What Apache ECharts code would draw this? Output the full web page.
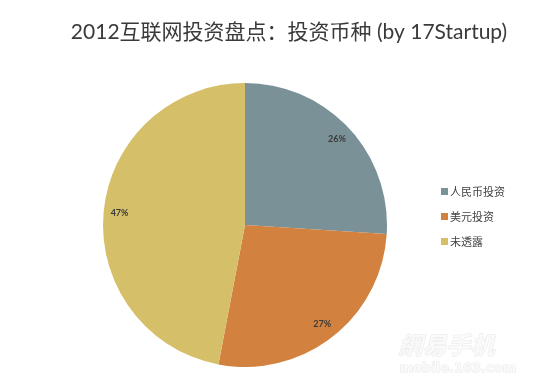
<!DOCTYPE html>
<html><head><meta charset="utf-8">
<script src="https://cdn.jsdelivr.net/npm/echarts@6/dist/echarts.min.js"></script>
<style>html,body{margin:0;padding:0;background:#fff}#c{width:550px;height:389px}</style>
</head><body><div id="c"></div>
<script>
const titleText = '2012互联网投资盘点：投资币种 (by 17Startup)';
const categories = ['人民币投资', '美元投资', '未透露'];
const values = [26, 27, 47];
const colors = ['#7b9198', '#d2823e', '#d5bf69'];

const data = categories.map((n, i) => ({ name: n, value: values[i] }));
const chart = echarts.init(document.getElementById('c'), null, { renderer: 'canvas' });
chart.setOption({
  animation: false,
  color: colors,
  title: {
    text: titleText,
    left: 284, top: 17, textAlign: 'center',
    textStyle: { fontFamily: 'Lato, "Noto Sans CJK SC"', fontSize: 21, fontWeight: 'normal', color: '#3a3a3a' }
  },
  legend: {
    orient: 'vertical', left: 436, top: 181,
    itemWidth: 7, itemHeight: 7, itemGap: 14, icon: 'rect',
    textStyle: { fontFamily: '"Noto Sans CJK SC"', fontSize: 11, color: '#444', padding: [0, 0, 0, -3] },
    data: categories
  },
  series: [{
    type: 'pie', center: [245, 225], radius: [0, 142],
    startAngle: 90, clockwise: true,
    label: { show: false }, labelLine: { show: false },
    emphasis: { disabled: true },
    data: data
  }, {
    type: 'pie', center: [245, 225], radius: [104, 142],
    startAngle: 90, clockwise: true, silent: true,
    itemStyle: { color: 'rgba(0,0,0,0)' },
    label: {
      show: true, position: 'inside', formatter: '{c}%',
      fontFamily: 'Lato, sans-serif', fontSize: 9, fontWeight: 'bold', color: '#3a3a3a'
    },
    labelLine: { show: false },
    data: data
  }],
  graphic: [{
    type: 'text', left: 398, top: 332, silent: true,
    style: { text: '網易手机', fontSize: 24, fontStyle: 'italic', fontWeight: 'bold', fill: '#fafafa', stroke: '#e8e8e8', lineWidth: 1, fontFamily: '"Noto Sans CJK TC"' }
  }, {
    type: 'text', left: 399, top: 362, silent: true,
    style: { text: 'mobile.163.com', fontSize: 13, fontWeight: 'bold', fill: '#fafafa', stroke: '#e8e8e8', lineWidth: 1, fontFamily: 'Verdana, "DejaVu Sans"' }
  }]
});
</script></body></html>
